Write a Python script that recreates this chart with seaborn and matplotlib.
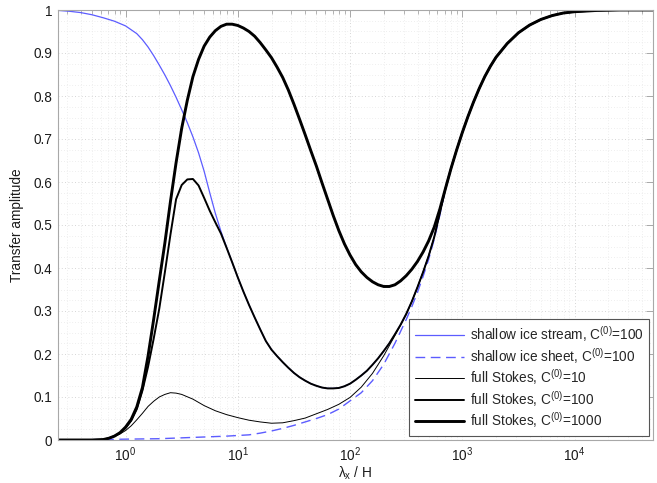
import numpy as np
import pandas as pd
import matplotlib
matplotlib.use("Agg")
import matplotlib.pyplot as plt
import seaborn as sns
from matplotlib.ticker import LogLocator, MultipleLocator, NullFormatter

# ---------------- data (x given as log10(lambda_x/H)) ----------------
# shared high-wavelength branch where all curves coincide
logx_tail = [2.85, 2.9, 2.95, 3.0, 3.05, 3.1, 3.15, 3.2, 3.25, 3.3, 3.4, 3.5, 3.6,
             3.7, 3.8, 3.9, 4.0, 4.2, 4.4, 4.7]
amp_tail = [0.585, 0.632, 0.675, 0.715, 0.752, 0.786, 0.817, 0.845, 0.869, 0.890,
            0.922, 0.947, 0.965, 0.978, 0.987, 0.993, 0.996, 0.999, 1.0, 1.0]

logx_ssa = [-0.6, -0.5, -0.4, -0.3, -0.2, -0.1, 0.0, 0.1, 0.15, 0.2, 0.25, 0.3, 0.35,
            0.4, 0.45, 0.5, 0.55, 0.6, 0.65, 0.7, 0.75, 0.8, 0.85, 0.9, 0.95, 1.0,
            1.05, 1.1, 1.15, 1.2, 1.25, 1.3, 1.35, 1.4, 1.45, 1.5, 1.55, 1.6, 1.65,
            1.7, 1.75, 1.8, 1.85, 1.9, 1.95, 2.0, 2.05, 2.1, 2.15, 2.2, 2.25, 2.3,
            2.35, 2.4, 2.45, 2.5, 2.55, 2.6, 2.65, 2.7, 2.75, 2.8]
amp_ssa = [0.999, 0.997, 0.994, 0.989, 0.982, 0.974, 0.963, 0.945, 0.931, 0.914,
           0.894, 0.872, 0.849, 0.824, 0.797, 0.768, 0.738, 0.705, 0.668, 0.625,
           0.575, 0.527, 0.485, 0.448, 0.413, 0.378, 0.345, 0.314, 0.285, 0.257,
           0.230, 0.210, 0.195, 0.181, 0.168, 0.156, 0.146, 0.138, 0.131, 0.126,
           0.122, 0.120, 0.120, 0.121, 0.125, 0.131, 0.140, 0.150, 0.161, 0.175,
           0.190, 0.207, 0.225, 0.246, 0.268, 0.293, 0.322, 0.355, 0.390, 0.428,
           0.472, 0.528]

logx_sia = [-0.6, -0.2, 0.0, 0.3, 0.6, 0.9, 1.1, 1.2, 1.3, 1.4, 1.5, 1.6, 1.7, 1.8,
            1.9, 2.0, 2.1, 2.2, 2.3, 2.4, 2.5, 2.55, 2.6, 2.65, 2.7, 2.75, 2.8]
amp_sia = [0.0, 0.001, 0.002, 0.003, 0.006, 0.009, 0.012, 0.016, 0.021, 0.027,
           0.034, 0.042, 0.050, 0.059, 0.072, 0.091, 0.110, 0.138, 0.176, 0.225,
           0.280, 0.310, 0.343, 0.380, 0.420, 0.467, 0.523]

logx_fs10 = [-0.6, -0.3, -0.2, -0.15, -0.1, -0.05, 0.0, 0.05, 0.1, 0.15, 0.2, 0.25,
             0.3, 0.35, 0.4, 0.45, 0.5, 0.6, 0.7, 0.8, 0.9, 1.0, 1.1, 1.2, 1.3, 1.4,
             1.5, 1.6, 1.7, 1.8, 1.9, 2.0, 2.1, 2.2, 2.3, 2.4, 2.45, 2.5, 2.55, 2.6,
             2.65, 2.7, 2.75, 2.8]
amp_fs10 = [0.0, 0.0, 0.001, 0.004, 0.008, 0.014, 0.022, 0.033, 0.047, 0.062, 0.078,
            0.090, 0.100, 0.106, 0.110, 0.109, 0.106, 0.095, 0.080, 0.068, 0.059,
            0.052, 0.046, 0.042, 0.039, 0.040, 0.045, 0.051, 0.061, 0.071, 0.083,
            0.099, 0.123, 0.155, 0.196, 0.243, 0.267, 0.292, 0.322, 0.355, 0.390,
            0.428, 0.472, 0.528]

logx_fs100 = [-0.6, -0.3, -0.2, -0.15, -0.1, -0.05, 0.0, 0.05, 0.1, 0.15, 0.2, 0.25,
              0.3, 0.35, 0.4, 0.45, 0.5, 0.55, 0.6, 0.65, 0.7, 0.75, 0.8, 0.85, 0.9,
              0.95, 1.0, 1.05, 1.1, 1.15, 1.2, 1.25, 1.3, 1.35, 1.4, 1.45, 1.5, 1.55,
              1.6, 1.65, 1.7, 1.75, 1.8, 1.85, 1.9, 1.95, 2.0, 2.05, 2.1, 2.15, 2.2,
              2.25, 2.3, 2.35, 2.4, 2.45, 2.5, 2.55, 2.6, 2.65, 2.7, 2.75, 2.8]
amp_fs100 = [0.0, 0.0, 0.001, 0.004, 0.009, 0.016, 0.028, 0.045, 0.072, 0.115, 0.170,
             0.235, 0.305, 0.390, 0.478, 0.560, 0.593, 0.606, 0.607, 0.592, 0.563,
             0.533, 0.506, 0.480, 0.447, 0.413, 0.378, 0.345, 0.314, 0.285, 0.257,
             0.230, 0.210, 0.195, 0.181, 0.168, 0.156, 0.146, 0.138, 0.131, 0.126,
             0.122, 0.120, 0.120, 0.121, 0.125, 0.131, 0.140, 0.150, 0.161, 0.175,
             0.190, 0.207, 0.225, 0.246, 0.268, 0.293, 0.322, 0.355, 0.390, 0.428,
             0.472, 0.528]

logx_fs1000 = [-0.6, -0.3, -0.2, -0.15, -0.1, -0.05, 0.0, 0.05, 0.1, 0.15, 0.2, 0.25,
               0.3, 0.35, 0.4, 0.45, 0.5, 0.55, 0.6, 0.65, 0.7, 0.75, 0.8, 0.85, 0.9,
               0.95, 1.0, 1.05, 1.1, 1.15, 1.2, 1.25, 1.3, 1.35, 1.4, 1.45, 1.5, 1.55,
               1.6, 1.65, 1.7, 1.75, 1.8, 1.85, 1.9, 1.95, 2.0, 2.05, 2.1, 2.15, 2.2,
               2.25, 2.3, 2.35, 2.4, 2.45, 2.5, 2.55, 2.6, 2.65, 2.7, 2.75, 2.8]
amp_fs1000 = [0.0, 0.0, 0.001, 0.004, 0.009, 0.017, 0.030, 0.048, 0.077, 0.122, 0.195,
              0.280, 0.370, 0.458, 0.555, 0.645, 0.725, 0.790, 0.845, 0.885, 0.916,
              0.937, 0.952, 0.962, 0.967, 0.967, 0.964, 0.958, 0.950, 0.939, 0.924,
              0.907, 0.889, 0.867, 0.843, 0.814, 0.781, 0.746, 0.710, 0.673, 0.637,
              0.598, 0.560, 0.522, 0.487, 0.456, 0.430, 0.408, 0.391, 0.378, 0.368,
              0.361, 0.357, 0.357, 0.361, 0.370, 0.382, 0.397, 0.415, 0.437, 0.463,
              0.495, 0.537]

labels = [r"shallow ice stream, C$^{(0)}$=100",
          r"shallow ice sheet, C$^{(0)}$=100",
          r"full Stokes, C$^{(0)}$=10",
          r"full Stokes, C$^{(0)}$=100",
          r"full Stokes, C$^{(0)}$=1000"]

xticks = [1e0, 1e1, 1e2, 1e3, 1e4]
yticks = [0, 0.1, 0.2, 0.3, 0.4, 0.5, 0.6, 0.7, 0.8, 0.9, 1]
ytick_labels = ["0", "0.1", "0.2", "0.3", "0.4", "0.5", "0.6", "0.7", "0.8", "0.9", "1"]

# ---------------- plotting ----------------
sns.set_style("white")
plt.rcParams["font.family"] = ["Liberation Sans", "DejaVu Sans"]
plt.rcParams["mathtext.fontset"] = "custom"
plt.rcParams["mathtext.rm"] = "Liberation Sans"
plt.rcParams["mathtext.it"] = "Liberation Sans"
plt.rcParams["mathtext.default"] = "regular"

FS = 9.8
fig = plt.figure(figsize=(6.57, 4.83), dpi=100)
ax = fig.add_axes([58 / 657, 1 - 440 / 483, (653 - 58) / 657, (440 - 10) / 483])


def series(logx, amp):
    lx = list(logx) + logx_tail
    y = list(amp) + amp_tail
    return pd.DataFrame({"lam": np.power(10.0, lx), "amp": y})


blue = "#5c5cff"
common = dict(ax=ax, x="lam", y="amp", sort=False, estimator=None)
sns.lineplot(data=series(logx_ssa, amp_ssa), color=blue, lw=0.9, label=labels[0], **common)
sns.lineplot(data=series(logx_sia, amp_sia), color=blue, lw=1.0, linestyle=(0, (7, 4)),
             label=labels[1], **common)
sns.lineplot(data=series(logx_fs10, amp_fs10), color="black", lw=0.7, label=labels[2], **common)
sns.lineplot(data=series(logx_fs100, amp_fs100), color="black", lw=1.4, label=labels[3], **common)
sns.lineplot(data=series(logx_fs1000, amp_fs1000), color="black", lw=2.1, label=labels[4], **common)

ax.set_xscale("log")
ax.set_xlim(0.25, 5e4)
ax.set_ylim(0, 1)
ax.set_xticks(xticks)
ax.xaxis.set_minor_locator(LogLocator(base=10, subs=np.arange(2, 10), numticks=20))
ax.xaxis.set_minor_formatter(NullFormatter())
ax.set_yticks(yticks)
ax.set_yticklabels(ytick_labels)
ax.yaxis.set_minor_locator(MultipleLocator(0.025))

ax.grid(True, which="major", color="#c8c8c8", linestyle=(0, (1, 3)), lw=0.6)
ax.grid(True, which="minor", color="#e0e0e0", linestyle=(0, (1, 3)), lw=0.5)

for s in ax.spines.values():
    s.set_visible(True)
    s.set_color("#a8a8a8")
    s.set_linewidth(0.8)
ax.tick_params(which="both", direction="in", top=True, right=True,
               color="#a8a8a8", labelsize=FS, labelcolor="#1a1a1a")
ax.tick_params(which="major", length=5, width=0.7, pad=4)
ax.tick_params(which="minor", length=2.8, width=0.6)
ax.tick_params(axis="y", which="minor", length=0)

ax.set_xlabel("λ$_x$ / H", fontsize=FS, color="#1a1a1a", labelpad=0.5)
ax.set_ylabel("Transfer amplitude", fontsize=FS, color="#1a1a1a", labelpad=7)

leg = ax.legend(loc="lower right", fontsize=FS, frameon=True, fancybox=False,
                edgecolor="#555555", framealpha=1, handlelength=3.6,
                borderaxespad=0.3, labelspacing=0.12, handletextpad=0.45,
                borderpad=0.4)
leg.get_frame().set_linewidth(0.8)

fig.savefig("out.png", dpi=100)
